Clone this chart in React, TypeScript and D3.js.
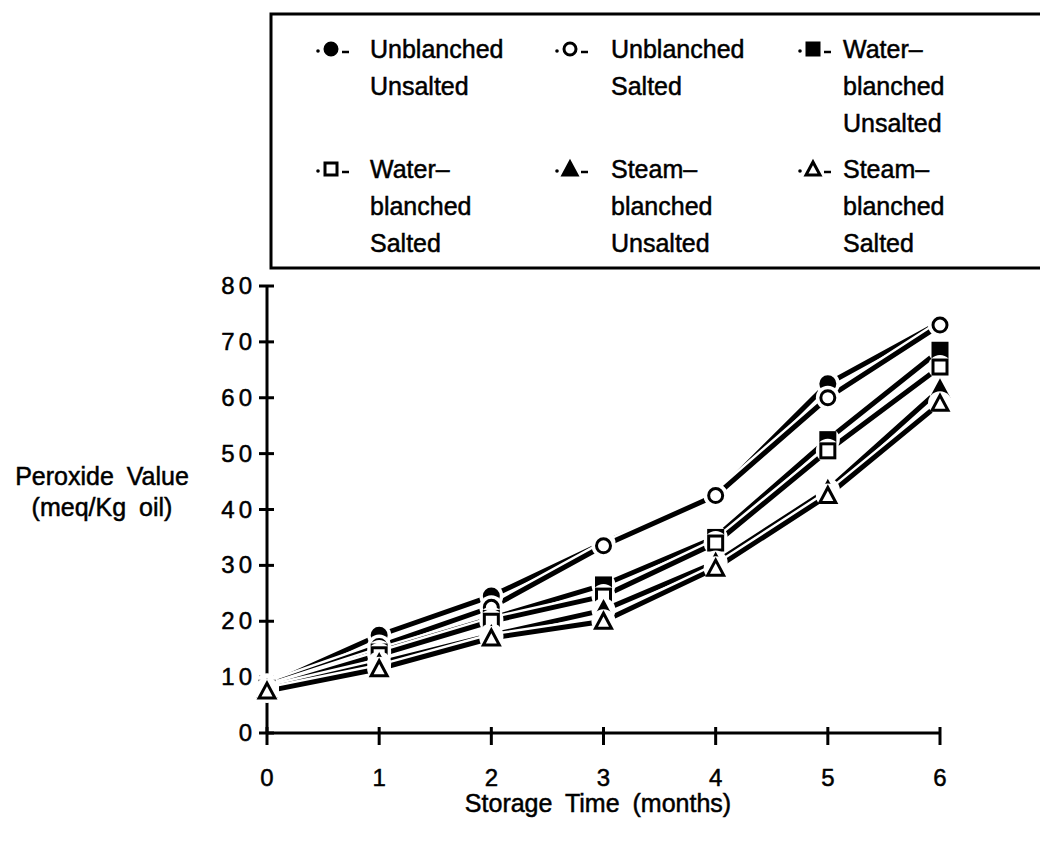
import React from "react";
import * as d3 from "d3";

const months = [0, 1, 2, 3, 4, 5, 6];
const yTicks = [0, 10, 20, 30, 40, 50, 60, 70, 80];

const unblanchedUnsalted = [8.5, 17.5, 24.5, 34, 42.5, 62.5, 73.5];
const unblanchedSalted = [8.5, 15.5, 22.5, 33.5, 42.5, 60, 73];
const waterUnsalted = [8, 14.5, 20.5, 26.5, 35, 52.5, 68.5];
const waterSalted = [8, 14, 20, 24.5, 34, 50.5, 65.5];
const steamUnsalted = [7.8, 12.5, 17.5, 22, 30.5, 43.5, 61.5];
const steamSalted = [7.5, 11.5, 17, 20, 29.5, 42.5, 59];

const seriesNames = [
  ["Unblanched", "Unsalted"],
  ["Unblanched", "Salted"],
  ["Water–", "blanched", "Unsalted"],
  ["Water–", "blanched", "Salted"],
  ["Steam–", "blanched", "Unsalted"],
  ["Steam–", "blanched", "Salted"],
];
const seriesShapes = ["circle", "circle", "square", "square", "triangle", "triangle"];
const seriesFilled = [true, false, true, false, true, false];
const seriesValues = [
  unblanchedUnsalted,
  unblanchedSalted,
  waterUnsalted,
  waterSalted,
  steamUnsalted,
  steamSalted,
];

const FONT = "'Liberation Sans', Arial, Helvetica, sans-serif";

function Marker({ shape, filled, cx, cy, s = 7 }: any) {
  const fill = filled ? "#000" : "#fff";
  if (shape === "circle")
    return <circle cx={cx} cy={cy} r={s} fill={fill} stroke="#000" strokeWidth={3} />;
  if (shape === "square")
    return (
      <rect x={cx - s} y={cy - s} width={2 * s} height={2 * s} fill={fill} stroke="#000" strokeWidth={3} />
    );
  const h = s * 2;
  const pts = [
    [cx, cy - h / 2 - 1],
    [cx + s + 1, cy + h / 2],
    [cx - s - 1, cy + h / 2],
  ];
  return (
    <polygon points={pts.map((p) => p.join(",")).join(" ")} fill={fill} stroke="#000" strokeWidth={3} strokeLinejoin="miter" />
  );
}

export default function App() {
  const x = d3.scaleLinear().domain([0, 6]).range([267, 940]);
  const y = d3.scaleLinear().domain([0, 80]).range([733, 286]);
  const line = d3
    .line<number>()
    .x((_, i) => x(months[i]))
    .y((d) => y(d));

  const legendCols = [318, 557, 800];
  const legendText = [370, 611, 843];
  const legendRows = [58, 178];
  const txt = { fill: "#000", stroke: "#000", strokeWidth: 0.5 };

  return (
    <svg
      width={1040}
      height={841}
      style={{ position: "absolute", left: 0, top: 0, background: "#fff" }}
      fontFamily={FONT}
    >
      <rect x={0} y={0} width={1040} height={841} fill="#fff" />
      {/* Legend */}
      <rect x={271} y={14} width={820} height={254} fill="none" stroke="#000" strokeWidth={3} />
      {seriesNames.map((lines, i) => {
        const col = i % 3;
        const row = Math.floor(i / 3);
        const bx = legendCols[col];
        const by = legendRows[row];
        return (
          <g key={i}>
            <circle cx={bx} cy={by - 7} r={1.8} fill="#000" />
            <Marker shape={seriesShapes[i]} filled={seriesFilled[i]} cx={bx + 13} cy={by - 9} s={6} />
            <line x1={bx + 24} x2={bx + 31} y1={by - 6} y2={by - 6} stroke="#000" strokeWidth={2.5} />
            {lines.map((t, j) => (
              <text key={j} x={legendText[col]} y={by + j * 37} fontSize={25} {...txt}>
                {t}
              </text>
            ))}
          </g>
        );
      })}

      {/* Axes */}
      <line x1={x(0)} x2={x(0)} y1={y(80)} y2={y(0)} stroke="#000" strokeWidth={3} />
      <line x1={x(0)} x2={x(6)} y1={y(0)} y2={y(0)} stroke="#000" strokeWidth={3} />
      {yTicks.map((t) => (
        <g key={t}>
          <line x1={x(0) - 8} x2={x(0) + 7} y1={y(t)} y2={y(t)} stroke="#000" strokeWidth={3} />
          <text x={256} y={y(t) + 8} fontSize={24} textAnchor="end" letterSpacing={4} {...txt}>
            {t}
          </text>
        </g>
      ))}
      {months.map((m) => (
        <g key={m}>
          <line x1={x(m)} x2={x(m)} y1={y(0) - 6} y2={y(0) + 12} stroke="#000" strokeWidth={3} />
          <text x={x(m)} y={786} fontSize={24} textAnchor="middle" {...txt}>
            {m}
          </text>
        </g>
      ))}

      <text x={102} y={485} fontSize={25} textAnchor="middle" wordSpacing={6} {...txt}>
        Peroxide Value
      </text>
      <text x={102} y={516} fontSize={25} textAnchor="middle" wordSpacing={6} {...txt}>
        (meq/Kg oil)
      </text>
      <text x={598} y={812} fontSize={25} textAnchor="middle" wordSpacing={6} {...txt}>
        Storage Time (months)
      </text>

      {/* Lines */}
      {seriesValues.map((vals, i) => (
        <g key={i}>
          <path d={line(vals) || ""} fill="none" stroke="#fff" strokeWidth={10} />
          <path d={line(vals) || ""} fill="none" stroke="#000" strokeWidth={5} />
        </g>
      ))}
      {/* Markers */}
      {seriesValues.map((vals, i) => (
        <g key={i}>
          {vals.map((v, k) => (
            <g key={k}>
              <circle cx={x(months[k])} cy={y(v)} r={12} fill="#fff" />
              <Marker shape={seriesShapes[i]} filled={seriesFilled[i]} cx={x(months[k])} cy={y(v)} />
            </g>
          ))}
        </g>
      ))}
    </svg>
  );
}
